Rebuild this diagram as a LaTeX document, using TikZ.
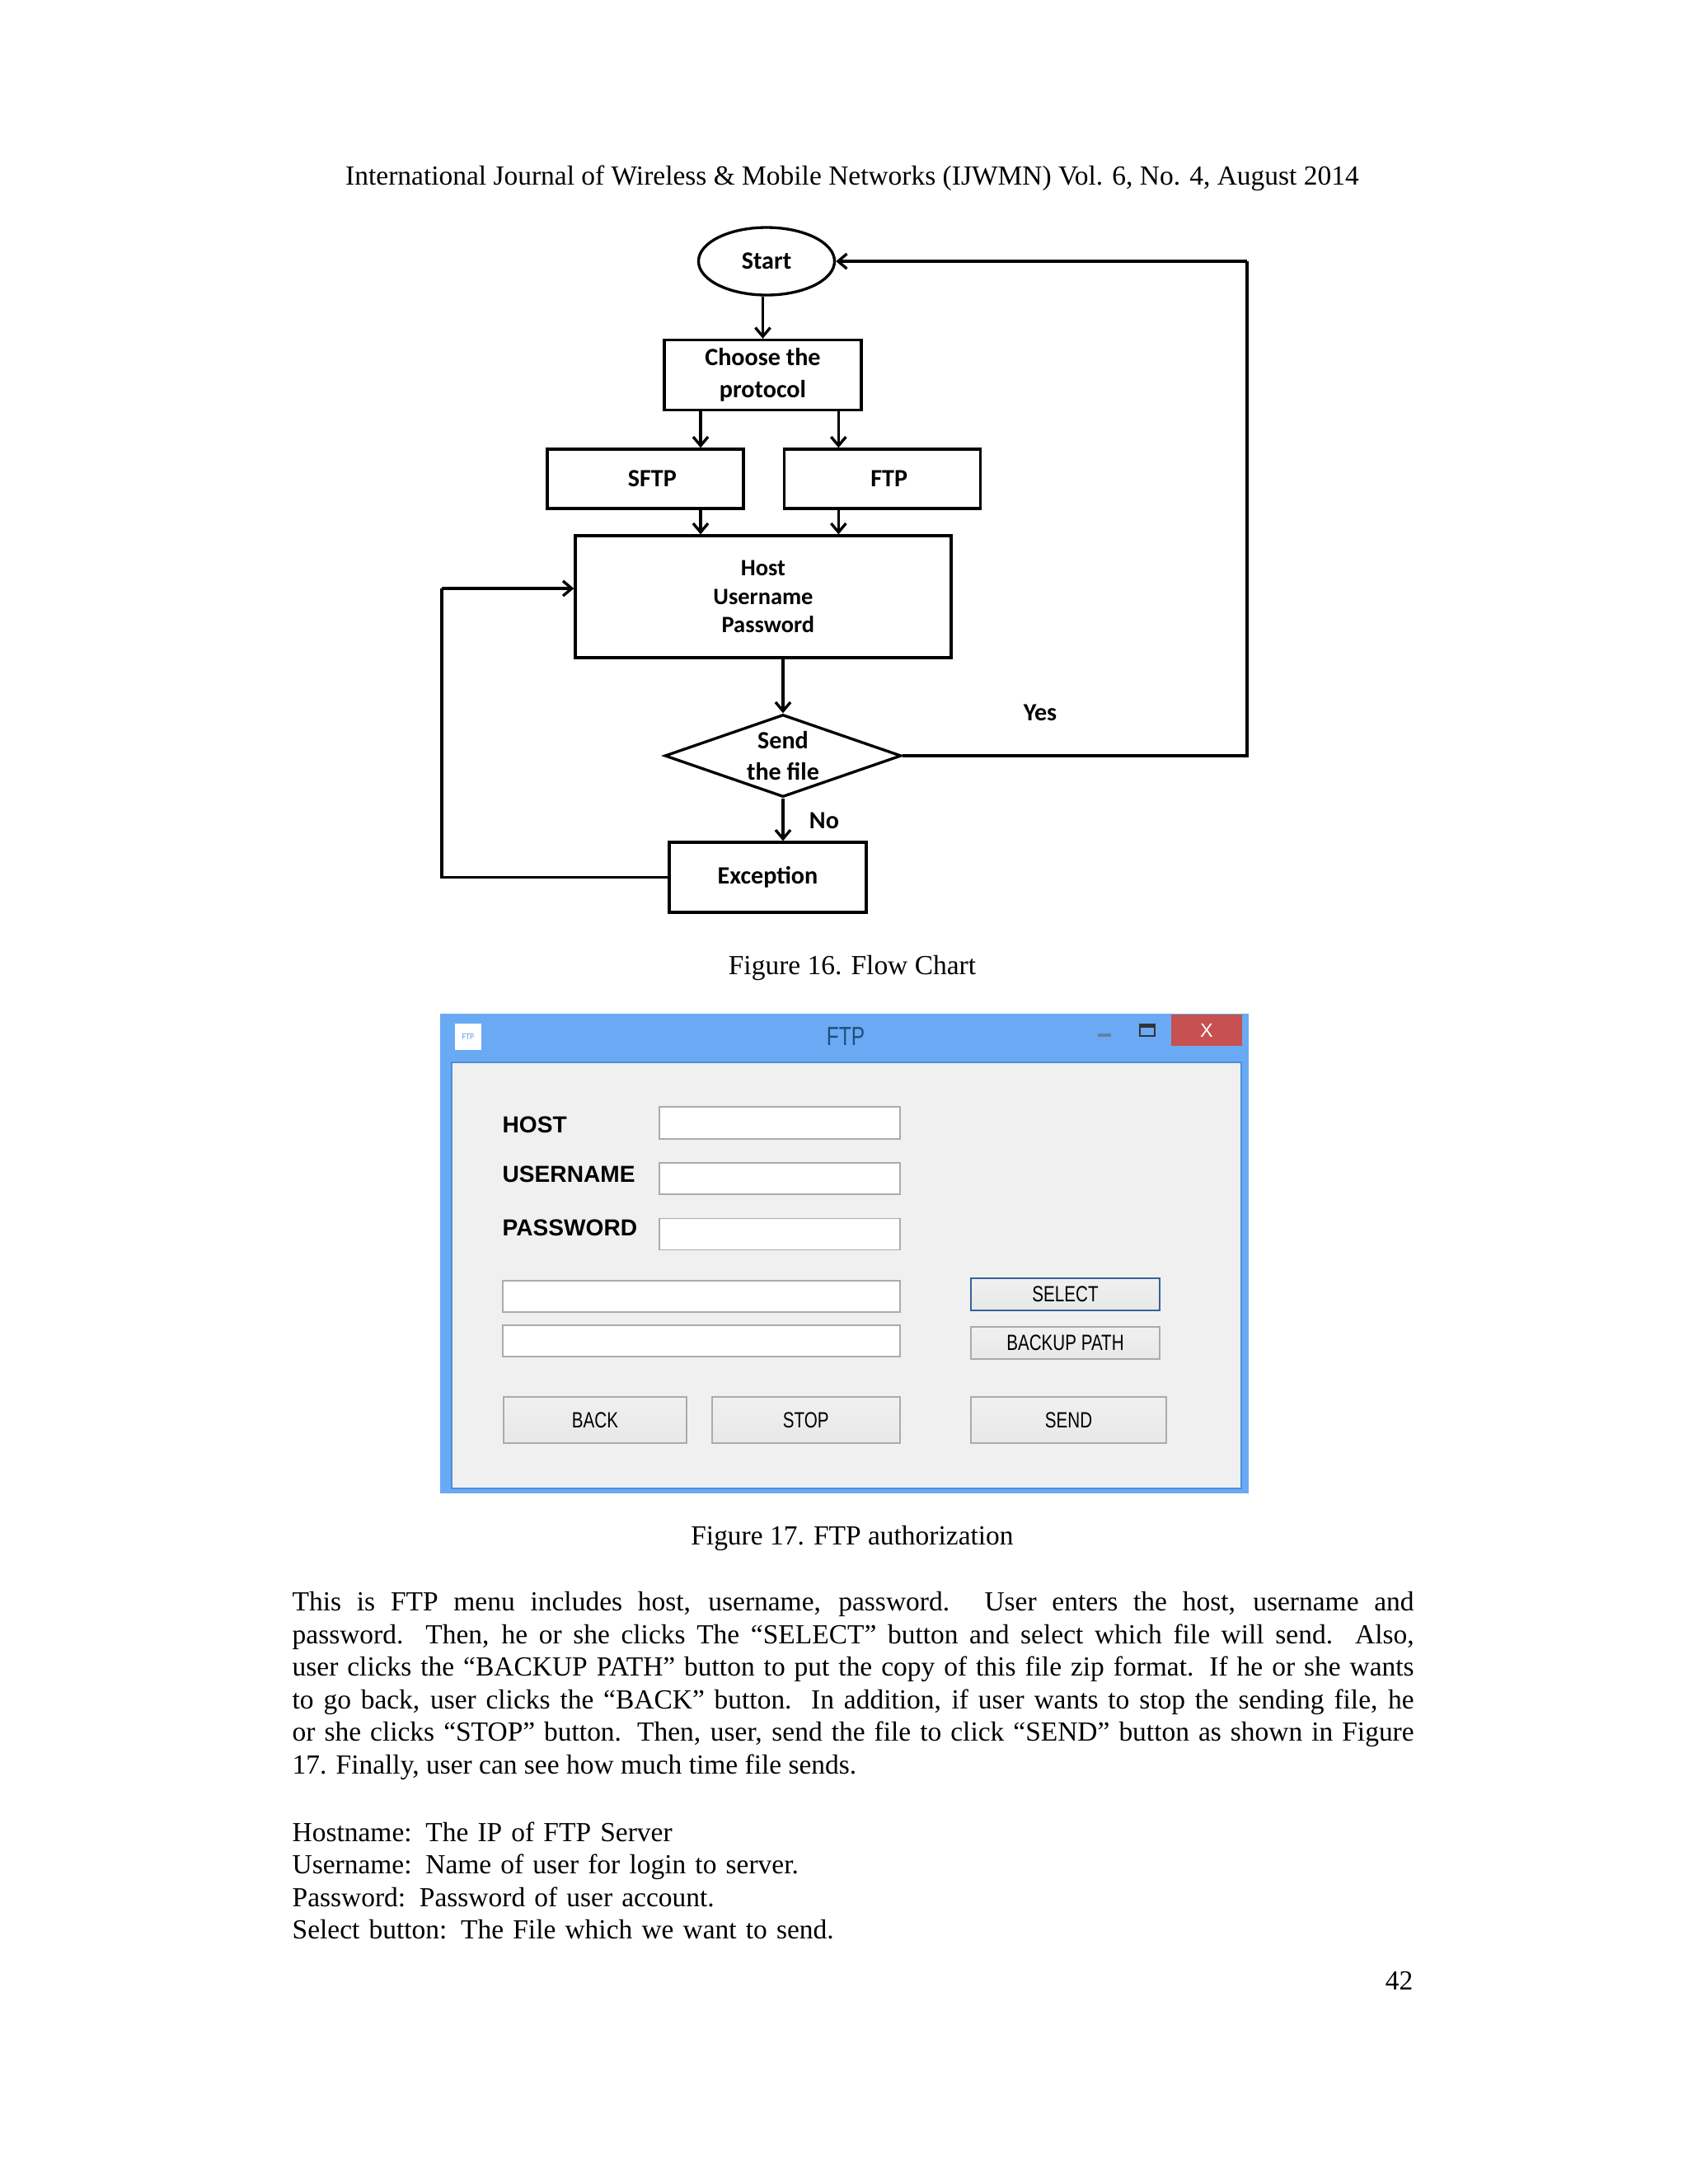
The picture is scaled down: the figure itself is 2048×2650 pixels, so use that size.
\documentclass[tikz,border=0pt]{standalone}
\usepackage{fontspec}
\setmainfont{Liberation Serif}
\newfontfamily\chartfont{Carlito}
\newfontfamily\uifont[FakeStretch=0.77]{Liberation Sans}
\newfontfamily\labelfont{Liberation Sans}
\usetikzlibrary{positioning,arrows.meta,calc,shapes.geometric}
\newcommand{\px}{0.29883pt}
\definecolor{winblue}{HTML}{6AA9F4}
\definecolor{winedge}{HTML}{4A8FDC}
\definecolor{winface}{HTML}{F0F0F0}
\definecolor{winred}{HTML}{C75050}
\definecolor{winline}{HTML}{ABABAB}
\definecolor{wintitle}{HTML}{1F4E79}

\begin{document}
\begin{tikzpicture}[
    x=0.29883pt, y=-0.29883pt,
    flowbox/.style={draw, line width=1pt, inner sep=0pt, align=center, font=\chartfont\bfseries\fontsize{9}{11.5}\selectfont},
    flowtext/.style={inner sep=0pt, font=\chartfont\bfseries\fontsize{9}{11.5}\selectfont},
    flow/.style={-{Straight Barb[length=3.2pt,width=5.4pt]}, line width=1pt},
    flowline/.style={line width=1pt},
    pagetext/.style={inner sep=0pt, font=\fontsize{10}{11.8}\selectfont},
    field/.style={draw=winline, fill=white, line width=0.5pt, inner sep=0pt},
    btn/.style={draw=winline, top color=winface, bottom color=gray!18, line width=0.5pt, inner sep=0pt, font=\uifont\fontsize{8}{9}\selectfont},
    uilabel/.style={inner sep=0pt, anchor=west, font=\labelfont\bfseries\fontsize{8.4}{10}\selectfont}
  ]
    \useasboundingbox (0,0) rectangle (2048,2650);

    \node[pagetext] (header) at (1034,216) {International Journal of Wireless \& Mobile Networks (IJWMN) Vol. 6, No. 4, August 2014};

    % flow chart
    \node[flowbox, ellipse, minimum width=165*\px, minimum height=82*\px] (start) at (930,317) {Start};
    \node[flowbox, minimum width=239*\px, minimum height=85*\px] (choose) at (925.5,455) {Choose the\\protocol};
    \node[flowbox, minimum width=238*\px, minimum height=72*\px] (sftp) at (783,581) {\hspace*{5pt}SFTP};
    \node[flowbox, right=46*\px of sftp, minimum width=238*\px, minimum height=72*\px] (ftp) {\hspace*{5pt}FTP};
    \node[flowbox, minimum width=456*\px, minimum height=148*\px, font=\chartfont\bfseries\fontsize{8.5}{10.3}\selectfont] (login) at (926,724) {Host\\Username\\\hspace*{3.5pt}Password};
    \node[flowbox, diamond, aspect=2.87, inner sep=-9pt, minimum width=287*\px, minimum height=100*\px] (send) at (950,917) {Send\\the file};
    \node[flowbox, minimum width=239*\px, minimum height=85*\px] (except) at (931.5,1064.5) {Exception};
    \node[flowtext] (yes) at (1262,865) {Yes};
    \node[flowtext] (no) at (1000,996) {No};
    \coordinate (retop) at (1513,317);
    \coordinate (reback) at (536,714);
    \coordinate (sftpin) at ([xshift=67*\px]sftp.north);
    \coordinate (sftpout) at ([xshift=67*\px]sftp.south);
    \coordinate (ftpin) at ([xshift=-53*\px]ftp.north);
    \coordinate (ftpout) at ([xshift=-53*\px]ftp.south);

    \draw[flow] (start.south -| choose.north) -- (choose.north);
    \draw[flow] (choose.south -| sftpin) -- (sftpin);
    \draw[flow] (choose.south -| ftpin) -- (ftpin);
    \draw[flow] (sftpout) -- (sftpout |- login.north);
    \draw[flow] (ftpout) -- (ftpout |- login.north);
    \draw[flow] (login.south -| send.north) -- (send.north);
    \draw[flow] (send.south) -- (send.south |- except.north);
    \draw[flowline] (send.east) -- (send.east -| retop) -- (retop);
    \draw[flow] (retop) -- (start.east);
    \draw[flowline] (except.west) -- (except.west -| reback) -- (reback);
    \draw[flow] (reback) -- (reback -| login.west);

    \node[pagetext] (capa) at (1034,1174) {Figure 16. Flow Chart};

    % ftp window
    \node[fill=winblue, minimum width=981*\px, minimum height=582*\px, inner sep=0pt] (window) at (1024.5,1521) {};
    \node[fill=winface, draw=winedge, line width=0.5pt, minimum width=958*\px, minimum height=517*\px, inner sep=0pt] (face) at (1027,1547.5) {};
    \node[fill=white, minimum width=32*\px, minimum height=32*\px, inner sep=0pt, text=winedge, font=\uifont\fontsize{3}{3}\selectfont] (icon) at (568,1258) {FTP};
    \node[inner sep=0pt, text=wintitle, font=\uifont\fontsize{9.5}{10}\selectfont] (title) at (1026,1258) {FTP};
    \node[fill=wintitle!70, minimum width=16*\px, minimum height=4*\px, inner sep=0pt] (minbtn) at (1340,1256) {};
    \node[draw=black!80, line width=0.5pt, minimum width=18*\px, minimum height=14*\px, inner sep=0pt, path picture={\fill[black!80] (path picture bounding box.north west) rectangle ([yshift=-1.2pt]path picture bounding box.north east);}] (maxbtn) at (1392,1250) {};
    \node[fill=winred, text=white, minimum width=86*\px, minimum height=38*\px, inner sep=0pt, font=\labelfont\fontsize{7}{8}\selectfont] (closebtn) at (1464,1250) {X};

    \node[uilabel] (hostlbl) at (609,1365) {HOST};
    \node[uilabel] (userlbl) at (609,1425) {USERNAME};
    \node[uilabel] (passlbl) at (609,1490) {PASSWORD};

    \node[field, minimum width=292*\px, minimum height=39*\px] (hostin) at (946,1362.5) {};
    \node[field, below=27*\px of hostin, minimum width=292*\px, minimum height=38*\px] (userin) {};
    \node[field, below=28*\px of userin, minimum width=292*\px, minimum height=38*\px] (passin) {};
    \node[field, minimum width=482*\px, minimum height=38*\px] (filein) at (851,1573) {};
    \node[field, below=14*\px of filein, minimum width=482*\px, minimum height=38*\px] (backin) {};

    \node[btn, draw=winedge!70!black, line width=0.7pt, minimum width=229*\px, minimum height=39*\px] (select) at (1292.5,1570.5) {SELECT};
    \node[btn, below=18*\px of select, minimum width=229*\px, minimum height=39*\px] (backup) {BACKUP PATH};
    \node[btn, minimum width=222*\px, minimum height=56*\px] (back) at (722,1723) {BACK};
    \node[btn, right=29*\px of back, minimum width=228*\px, minimum height=56*\px] (stop) {STOP};
    \node[btn, minimum width=237*\px, minimum height=56*\px] (sendbtn) at (1296.5,1723) {SEND};

    \node[pagetext] (capb) at (1034,1866) {Figure 17. FTP authorization};

    % text below
    \node[pagetext, anchor=north west, text width=1361*\px, align=justify] (bodya) at (354,1931) {This is FTP menu includes host, username, password. User enters the host, username and\linebreak
      password. Then, he or she clicks The ``SELECT'' button and select which file will send. Also,\linebreak
      user clicks the ``BACKUP PATH'' button to put the copy of this file zip format. If he or she wants\linebreak
      to go back, user clicks the ``BACK'' button.\ \ In addition, if user wants to stop the sending file, he\linebreak
      or she clicks ``STOP'' button. Then, user, send the file to click ``SEND'' button as shown in Figure\linebreak
      17. Finally, user can see how much time file sends.};
    \node[pagetext, anchor=north west, text width=1361*\px, align=left] (bodyb) at (354,2210) {Hostname: The IP of FTP Server\\
      Username: Name of user for login to server.\\
      Password: Password of user account.\\
      Select button: The File which we want to send.};
    \node[pagetext, anchor=east] (pageno) at (1715,2403) {42};
  \end{tikzpicture}
\end{document}
